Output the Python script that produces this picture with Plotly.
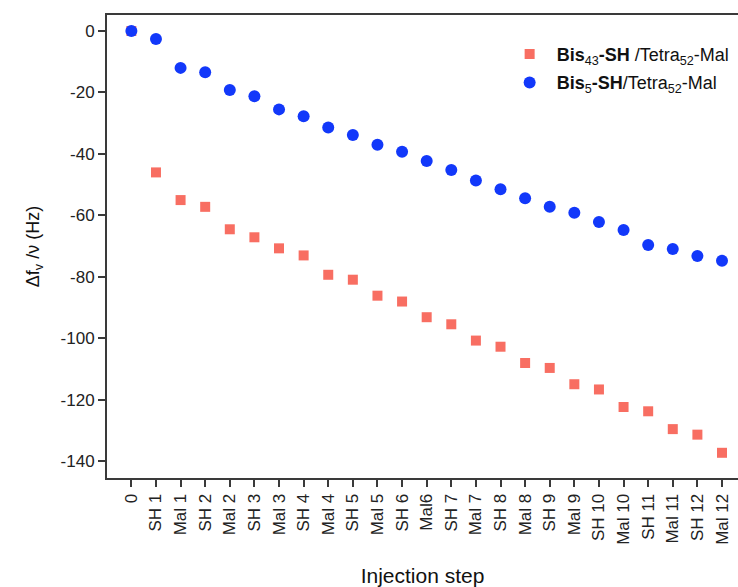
import plotly.graph_objects as go

steps = ["0", "SH 1", "Mal 1", "SH 2", "Mal 2", "SH 3", "Mal 3", "SH 4", "Mal 4", "SH 5", "Mal 5",
         "SH 6", "Mal6", "SH 7", "Mal 7", "SH 8", "Mal 8", "SH 9", "Mal 9", "SH 10", "Mal 10",
         "SH 11", "Mal 11", "SH 12", "Mal 12"]

bis43 = [0, -46.0, -55.0, -57.2, -64.5, -67.1, -70.7, -73.0, -79.3, -80.9, -86.1,
         -88.0, -93.1, -95.4, -100.7, -102.7, -108.0, -109.6, -114.9, -116.6, -122.3,
         -123.7, -129.5, -131.3, -137.2]

bis5 = [0, -2.6, -12.0, -13.4, -19.2, -21.2, -25.5, -27.7, -31.4, -33.8, -37.0,
        -39.3, -42.3, -45.2, -48.6, -51.5, -54.4, -57.2, -59.1, -62.1, -64.7,
        -69.6, -70.9, -73.2, -74.7]

y_ticks = [0, -20, -40, -60, -80, -100, -120, -140]

x_idx = list(range(len(steps)))

fig = go.Figure()
fig.add_trace(go.Scatter(
    x=x_idx, y=bis43, mode="markers", legendgroup="a",
    name="<b>Bis</b><sub>43</sub><b>-SH</b> /Tetra<sub>52</sub>-Mal",
    marker=dict(symbol="square", size=10, color="#F86E62", line=dict(width=0)),
))
fig.add_trace(go.Scatter(
    x=x_idx, y=bis5, mode="markers", legendgroup="b",
    name="<b>Bis</b><sub>5</sub><b>-SH</b>/Tetra<sub>52</sub>-Mal",
    marker=dict(symbol="circle", size=12, color="#1238FA", line=dict(width=0)),
))

axis_line = "#3a3a3a"
fig.update_layout(
    width=738, height=587,
    margin=dict(l=107, r=0, t=15, b=109),
    paper_bgcolor="white", plot_bgcolor="white",
    font=dict(family="Liberation Sans, Arial, sans-serif", color="#222222", size=16),
    showlegend=True,
    legend=dict(x=0.627, y=0.955, xanchor="left", yanchor="top",
                bgcolor="rgba(0,0,0,0)", font=dict(size=18, color="#111111"),
                itemwidth=44, tracegroupgap=2),
    xaxis=dict(
        range=[-0.99, 24.65],
        tickmode="array", tickvals=x_idx, ticktext=steps,
        tickangle=-90, ticks="outside", ticklen=7, tickwidth=2, tickcolor=axis_line,
        showline=True, linecolor=axis_line, linewidth=2, mirror=True,
        showgrid=False, zeroline=False,
        tickfont=dict(size=17, color="#222222"),
        title=dict(text="Injection step", font=dict(size=21, color="#111111"), standoff=24),
    ),
    yaxis=dict(
        range=[-145.4, 5.2],
        tickmode="array", tickvals=y_ticks, ticktext=[str(v) for v in y_ticks],
        ticks="outside", ticklen=7, tickwidth=2, tickcolor=axis_line,
        showline=True, linecolor=axis_line, linewidth=2, mirror=False,
        showgrid=False, zeroline=False,
        tickfont=dict(size=17, color="#222222"),
        title=dict(text="Δf<sub>v</sub> /ν (Hz)", font=dict(size=18, color="#111111"), standoff=16),
    ),
)

fig.write_html("out.html", config={"displayModeBar": False},
               post_script="document.body.style.margin='0';document.body.style.overflow='hidden';")
